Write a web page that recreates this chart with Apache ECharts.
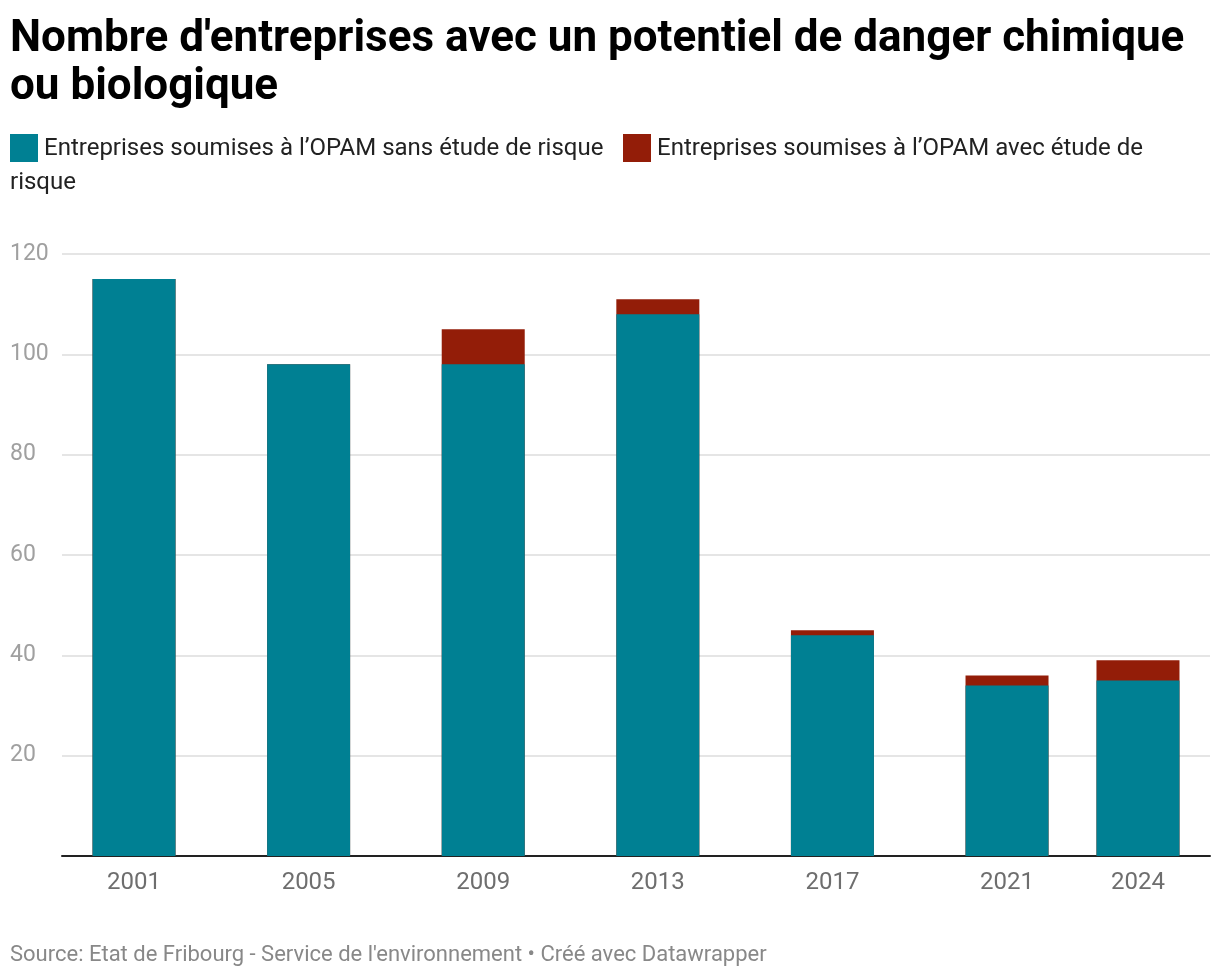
<!DOCTYPE html>
<html>
<head>
<meta charset="utf-8">
<script src="https://cdn.jsdelivr.net/npm/echarts@6/dist/echarts.min.js"></script>
<style>
html,body{margin:0;padding:0;background:#fff;}
#chart{width:1220px;height:980px;}
</style>
</head>
<body>
<div id="chart"></div>
<script>
const years = [2001, 2005, 2009, 2013, 2017, 2021, 2024];
const sansEtude = [115, 98, 98, 108, 44, 34, 35];
const avecEtude = [0, 0, 7, 3, 1, 2, 4];
const yTicks = [20, 40, 60, 80, 100, 120];
const seriesNames = ["Entreprises soumises à l’OPAM sans étude de risque", "Entreprises soumises à l’OPAM avec étude de risque"];
const colors = ["#008093", "#931d08"];

const chart = echarts.init(document.getElementById('chart'), null, {renderer: 'canvas'});
const font = 'Roboto, "Noto Sans", sans-serif';

// stacked top = sans + avec (red drawn behind, teal overlaid)
const totals = years.map((y, i) => [y, sansEtude[i] + avecEtude[i]]);

const option = {
  animation: false,
  textStyle: {fontFamily: font},
  title: {
    text: "Nombre d'entreprises avec un potentiel de danger chimique\nou biologique",
    left: 10, top: 16, padding: 0,
    textStyle: {fontFamily: font, fontSize: 44, fontWeight: 'bold', color: '#000', lineHeight: 48}
  },
  grid: {left: 62, right: 10, top: 254, bottom: 124, containLabel: false},
  xAxis: {
    type: 'value', min: 1999.35, max: 2025.65,
    splitLine: {show: false},
    axisTick: {show: false},
    axisLine: {show: true, lineStyle: {color: '#222', width: 2}},
    axisLabel: {customValues: years, margin: 15, fontSize: 24, color: '#6e6e6e', fontFamily: font,
      formatter: v => String(v)}
  },
  yAxis: {
    type: 'value', min: 0, max: 120, interval: 20,
    axisLine: {show: false}, axisTick: {show: false},
    splitLine: {lineStyle: {color: '#e5e5e5', width: 2}},
    axisLabel: {align: 'left', margin: 52, fontSize: 23, color: '#a0a0a0', fontFamily: font,
      formatter: v => (yTicks.indexOf(v) >= 0 ? String(v) : '')}
  },
  series: [
    {name: seriesNames[1], type: 'bar', barWidth: 83, barGap: '-100%', z: 2,
     itemStyle: {color: colors[1]}, data: totals},
    {name: seriesNames[0], type: 'bar', barWidth: 83, barGap: '-100%', z: 3,
     itemStyle: {color: colors[0]}, data: years.map((y, i) => [y, sansEtude[i]])}
  ],
  graphic: [
    {type: 'rect', left: 10, top: 134, shape: {width: 28, height: 28}, style: {fill: colors[0]}},
    {type: 'text', left: 44, top: 137, style: {text: seriesNames[0], font: '24px ' + font, fill: '#222'}},
    {type: 'rect', left: 623, top: 134, shape: {width: 28, height: 28}, style: {fill: colors[1]}},
    {type: 'text', left: 657, top: 137, style: {text: "Entreprises soumises à l’OPAM avec étude de", font: '24px ' + font, fill: '#222'}},
    {type: 'text', left: 10, top: 171, style: {text: "risque", font: '24px ' + font, fill: '#222'}},
    {type: 'text', left: 10, top: 944, style: {text: "Source: Etat de Fribourg - Service de l'environnement • Créé avec Datawrapper", font: '22px ' + font, fill: '#888'}}
  ]
};
chart.setOption(option);
</script>
</body>
</html>
